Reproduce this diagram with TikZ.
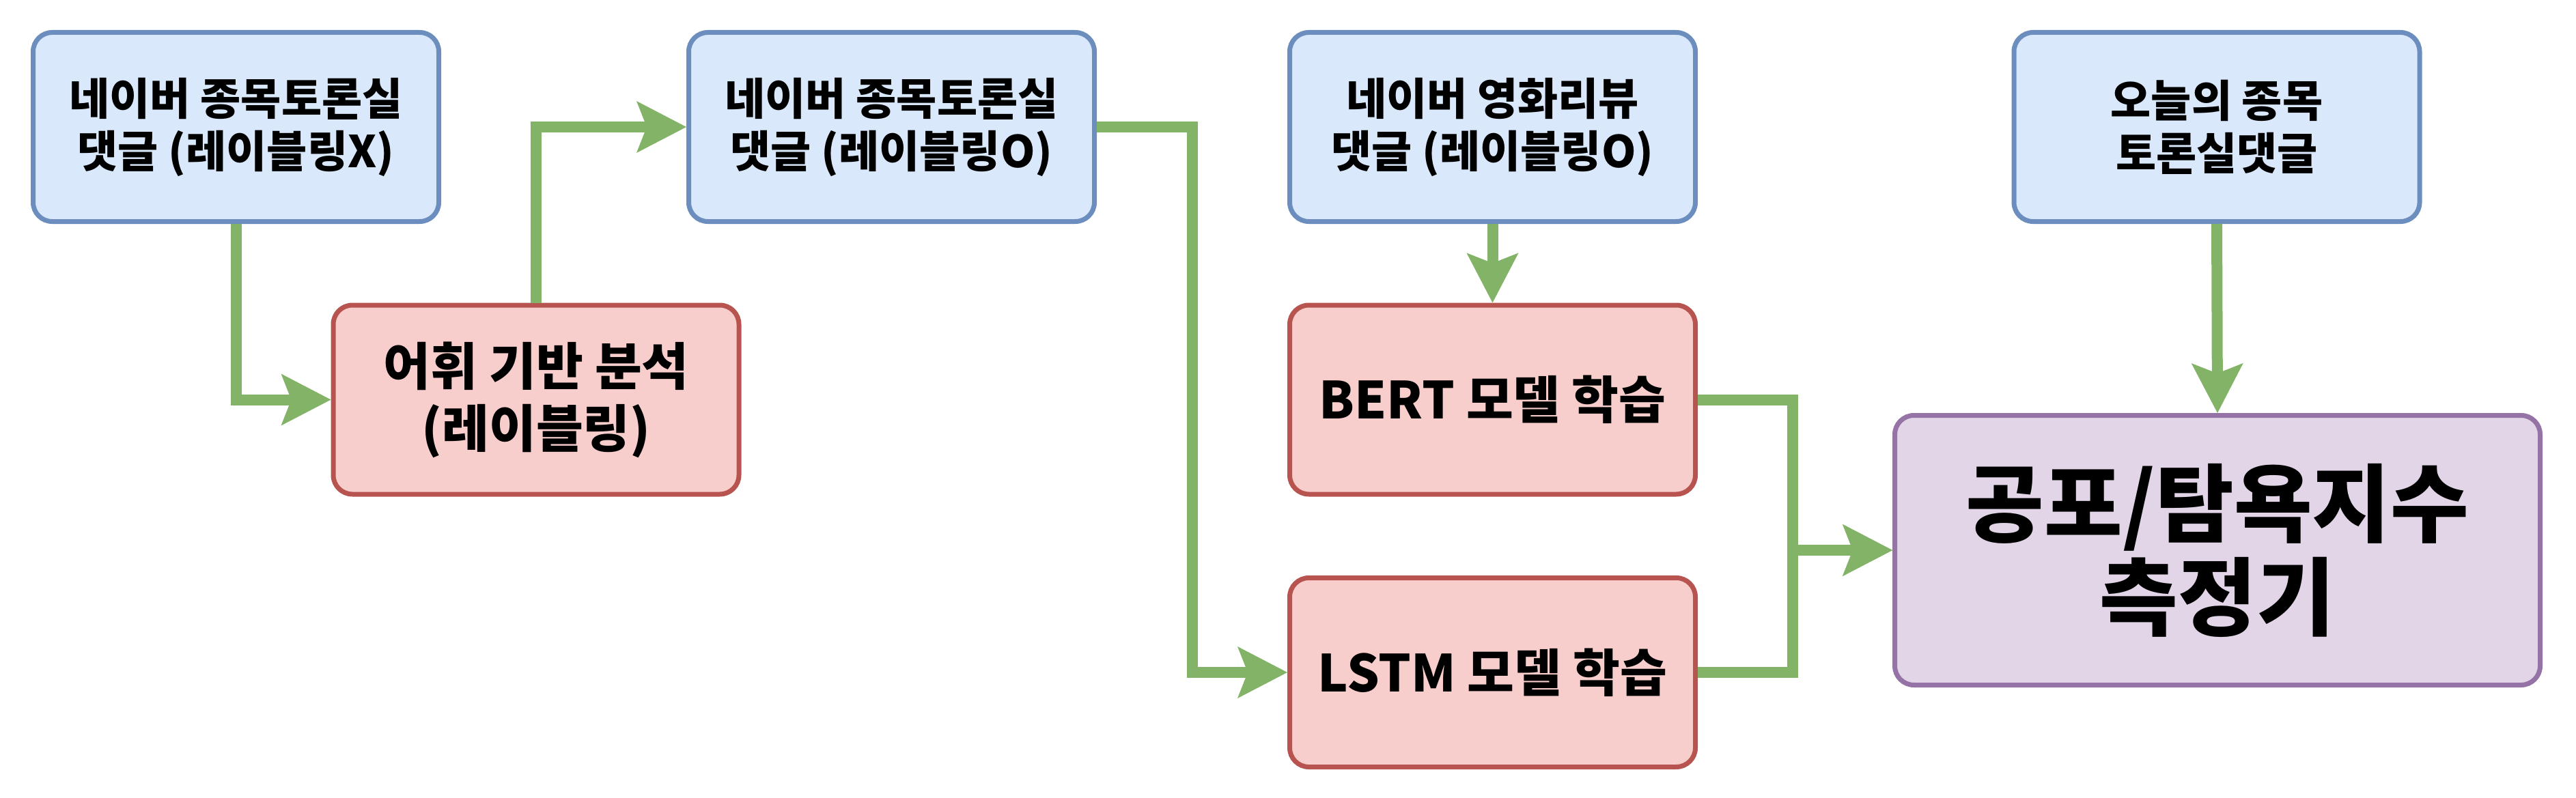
\documentclass[tikz,border=0pt]{standalone}
\usepackage{fontspec}
\setmainfont{Noto Sans CJK KR}
\usetikzlibrary{arrows.meta}
\definecolor{srcfill}{HTML}{DAE8FC}
\definecolor{srcline}{HTML}{6C8EBF}
\definecolor{procfill}{HTML}{F8CECC}
\definecolor{procline}{HTML}{B85450}
\definecolor{gaugefill}{HTML}{E1D5E7}
\definecolor{gaugeline}{HTML}{9673A6}
\definecolor{flowgreen}{HTML}{82B366}

\begin{document}
\begin{tikzpicture}[
        card/.style={rounded corners=0.28cm,line width=0.07cm,minimum width=5.94cm,minimum height=2.77cm,align=center},
        src/.style={card,draw=srcline,fill=srcfill,font=\bfseries\fontsize{18.3}{21.9}\selectfont},
        proc/.style={card,draw=procline,fill=procfill,font=\bfseries\fontsize{21.3}{25.9}\selectfont},
        gauge/.style={card,draw=gaugeline,fill=gaugefill,minimum width=9.45cm,minimum height=3.95cm,font=\bfseries\fontsize{35.5}{39}\selectfont},
        flow/.style={draw=flowgreen,line width=0.16cm,-{Stealth[length=0.73cm,width=0.76cm,inset=0.15cm,line width=0pt]}}
    ]
        \useasboundingbox (0,0) rectangle (37.72,11.68);

        \node[src] (stockX) at (3.455,9.82) {네이버 종목토론실\\댓글 (레이블링X)};
        \node[proc] (lex) at (7.85,5.825) {어휘 기반 분석\\(레이블링)};
        \node[src] (stockO) at (13.055,9.82) {네이버 종목토론실\\댓글 (레이블링O)};
        \node[src] (movie) at (21.855,9.82) {네이버 영화리뷰\\댓글 (레이블링O)};
        \node[proc] (bert) at (21.855,5.825) {BERT 모델 학습};
        \node[proc] (lstm) at (21.855,1.83) {LSTM 모델 학습};
        \node[src] (today) at (32.46,9.82) {오늘의 종목\\토론실댓글};
        \node[gauge] (index) at (32.47,3.62) {공포/탐욕지수\\측정기};

        \draw[flow] (stockX.south) |- (lex.west);
        \draw[flow] (lex.north) |- (stockO.west);
        \draw[flow] (stockO.east) -- ++(1.4,0) |- (lstm.west);
        \draw[flow] (movie) -- (bert);
        \draw[flow] (bert.east) -- ++(1.39,0) |- (index.west);
        \draw[flow] (lstm.east) -- ++(1.39,0) |- (index.west);
        \draw[flow] (today.south) -- (index.north);
    \end{tikzpicture}
\end{document}
